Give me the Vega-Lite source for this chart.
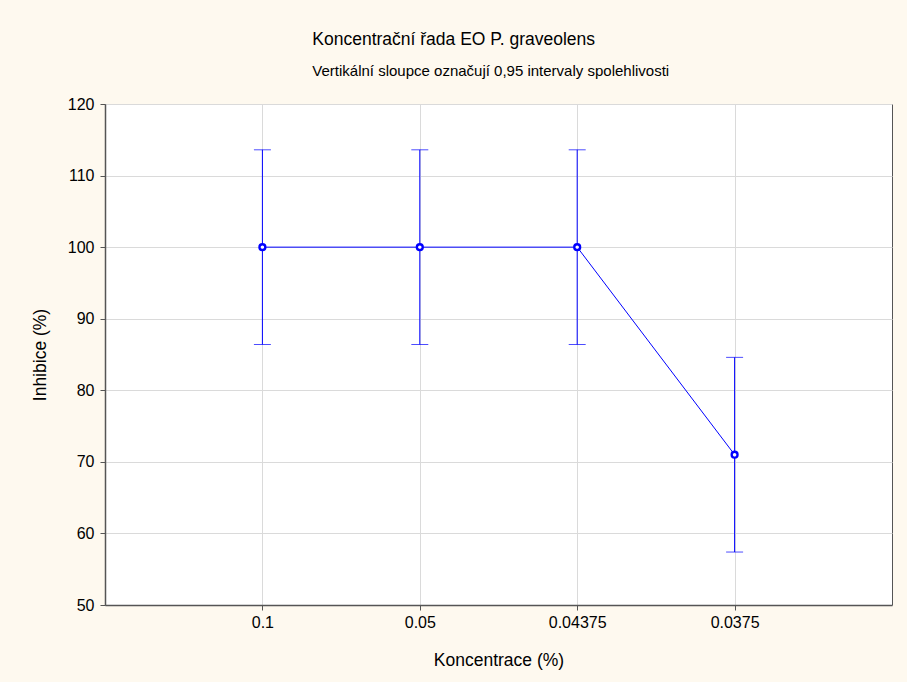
{
  "$schema": "https://vega.github.io/schema/vega-lite/v6.json",
  "autosize": {"type": "none"},
  "width": 787,
  "height": 501,
  "padding": {"left": 105, "top": 104, "right": 15, "bottom": 77},
  "background": "#FEF9EF",
  "config": {
    "font": "Liberation Sans",
    "view": {"fill": "#FFFFFF", "stroke": "#555555", "strokeWidth": 1},
    "axis": {
      "labelFont": "Liberation Sans",
      "labelFontSize": 16,
      "labelColor": "#000000",
      "titleFont": "Liberation Sans",
      "titleFontSize": 17.5,
      "titleFontWeight": "normal",
      "titleColor": "#000000",
      "domainColor": "#555555",
      "domainWidth": 1.5,
      "tickColor": "#555555",
      "tickSize": 5,
      "gridColor": "#DADADA",
      "gridWidth": 1
    }
  },
  "title": {
    "text": "Koncentrační řada EO  P. graveolens",
    "subtitle": "Vertikální sloupce označují 0,95 intervaly spolehlivosti",
    "font": "Liberation Sans",
    "fontSize": 17.5,
    "fontWeight": "normal",
    "color": "#000000",
    "subtitleFont": "Liberation Sans",
    "subtitleFontSize": 15,
    "subtitleColor": "#000000",
    "subtitlePadding": 16,
    "anchor": "start",
    "dx": 281,
    "offset": 17
  },
  "data": {
    "values": [
      {"konc": "0.1", "mean": 100, "lo": 86.4, "hi": 113.6},
      {"konc": "0.05", "mean": 100, "lo": 86.4, "hi": 113.6},
      {"konc": "0.04375", "mean": 100, "lo": 86.4, "hi": 113.6},
      {"konc": "0.0375", "mean": 71.0, "lo": 57.4, "hi": 84.6}
    ]
  },
  "encoding": {
    "x": {
      "field": "konc",
      "type": "nominal",
      "sort": null,
      "scale": {"type": "point", "padding": 1},
      "axis": {"title": "Koncentrace (%)", "labelAngle": 0, "labelPadding": 4, "titlePadding": 21, "grid": true}
    }
  },
  "layer": [
    {
      "mark": {"type": "rule", "color": "#0000FF", "strokeWidth": 1},
      "encoding": {
        "y": {"field": "lo", "type": "quantitative"},
        "y2": {"field": "hi"}
      }
    },
    {
      "mark": {"type": "tick", "color": "#0000FF", "size": 17, "thickness": 1, "orient": "horizontal"},
      "encoding": {"y": {"field": "lo", "type": "quantitative"}}
    },
    {
      "mark": {"type": "tick", "color": "#0000FF", "size": 17, "thickness": 1, "orient": "horizontal"},
      "encoding": {"y": {"field": "hi", "type": "quantitative"}}
    },
    {
      "mark": {"type": "line", "color": "#0000FF", "strokeWidth": 1},
      "encoding": {
        "y": {
          "field": "mean",
          "type": "quantitative",
          "scale": {"domain": [50, 120], "nice": false, "zero": false},
          "axis": {"title": "Inhibice (%)", "values": [50, 60, 70, 80, 90, 100, 110, 120], "labelPadding": 6, "titlePadding": 18, "grid": true}
        }
      }
    },
    {
      "mark": {"type": "point", "shape": "circle", "filled": false, "fill": "#FFFFFF", "color": "#0000FF", "strokeWidth": 2.4, "size": 34, "opacity": 1},
      "encoding": {"y": {"field": "mean", "type": "quantitative"}}
    }
  ]
}
